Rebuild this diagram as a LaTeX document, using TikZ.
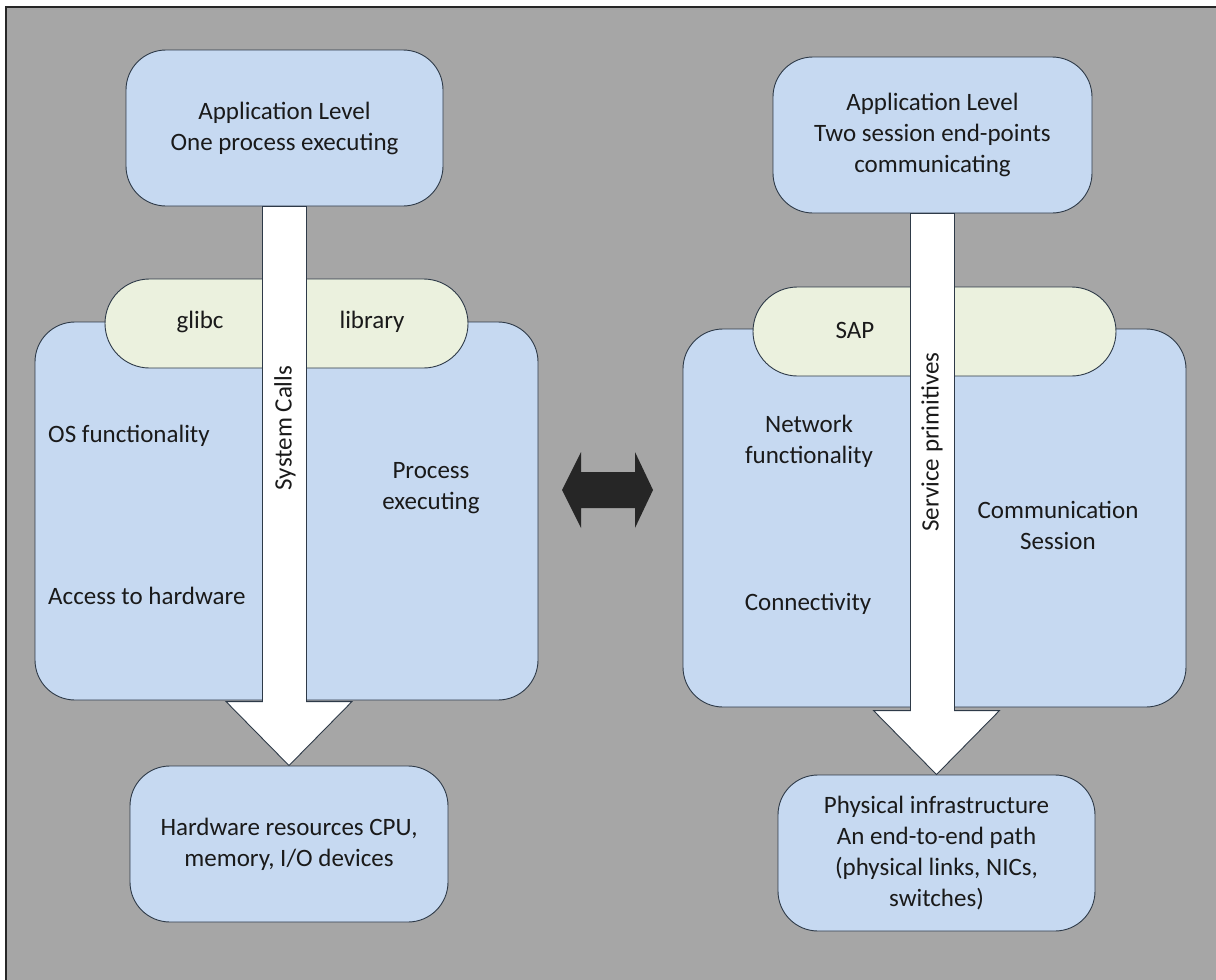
\documentclass[tikz,border=0pt]{standalone}
\usepackage{fontspec}
\setmainfont{Carlito}
\usetikzlibrary{calc}

\definecolor{bggray}{HTML}{A6A6A6}
\definecolor{boxblue}{HTML}{C6D9F1}
\definecolor{pillgreen}{HTML}{EBF1DE}
\definecolor{edgecol}{HTML}{2E3A48}
\definecolor{ink}{HTML}{1A1A1A}
\definecolor{darkarrow}{HTML}{262626}

\tikzset{
  every node/.style={font=\fontsize{25}{31}\selectfont, text=ink, inner sep=0pt},
  panel/.style={draw=edgecol, line width=0.9pt, fill=boxblue,
    rounded corners=40pt, align=center},
  capsule/.style={draw=edgecol, line width=0.9pt, fill=pillgreen,
    rounded corners=44.5pt},
  blockarrow/.style={draw=edgecol, line width=0.9pt, fill=white, line join=miter},
  swaparrow/.style={fill=darkarrow},
  lbl/.style={align=center}
}

\begin{document}
\begin{tikzpicture}[x=1pt,y=-1pt]
\useasboundingbox (0,0) rectangle (1216,980);

% canvas and frame
\fill[white] (0,0) rectangle (1216,980);
\draw[fill=bggray, draw=black!85, line width=1.5pt] (6,7) rectangle (1225,990);

% ---------- left stack: operating system ----------
\node[panel, minimum width=317pt, minimum height=156pt] (ltop) at (284.5,128)
  {Application Level\\One process executing};
\node[panel, minimum width=503pt, minimum height=378pt] (lmid) at (286.5,511) {};
\node[capsule, minimum width=363pt, minimum height=89pt] (lpill) at (286.5,323.5) {};
\node[panel, minimum width=318pt, minimum height=156pt] (lbot) at (289,844)
  {Hardware resources CPU,\\memory, I/O devices};

\draw[blockarrow] let \p1=(ltop.south), \p2=(lbot.north) in
  (\x1-22pt,\y1) -- (\x1-22pt,\y2+64pt) -- (\x2-63pt,\y2+64pt) -- (\p2)
  -- (\x2+63pt,\y2+64pt) -- (\x1+22pt,\y2+64pt) -- (\x1+22pt,\y1) -- cycle;

\node (glibc) at (200,322) {glibc};
\node (library) at (372,322) {library};
\node[anchor=west] (oslbl) at (48,436) {OS functionality};
\node[anchor=west] (acclbl) at (48,596) {Access to hardware};
\node[lbl] (proclbl) at (431,488) {Process\\executing};
\node[rotate=90] (syslbl) at (285,428) {System Calls};

% ---------- right stack: network ----------
\node[panel, minimum width=319pt, minimum height=156pt] (rtop) at (932.5,135)
  {Application Level\\Two session end-points\\communicating};
\node[panel, minimum width=503pt, minimum height=378pt] (rmid) at (934.5,518) {};
\node[capsule, minimum width=363pt, minimum height=89pt] (rpill) at (934.5,331.5) {};
\node[panel, minimum width=317pt, minimum height=156pt] (rbot) at (936.5,853)
  {Physical infrastructure\\An end-to-end path\\(physical links, NICs,\\switches)};

\draw[blockarrow] let \p1=(rtop.south), \p2=(rbot.north) in
  (\x1-22pt,\y1) -- (\x1-22pt,\y2+64pt) -- (\x2-63pt,\y2+64pt) -- (\p2)
  -- (\x2+63pt,\y2+64pt) -- (\x1+22pt,\y2+64pt) -- (\x1+22pt,\y1) -- cycle;

\node (sap) at (855,330) {SAP};
\node[lbl] (netlbl) at (809,441) {Network\\functionality};
\node (conn) at (808,604) {Connectivity};
\node[lbl] (comm) at (1058,525) {Communication\\Session};
\node[rotate=90] (servlbl) at (932,442) {Service primitives};

% ---------- correspondence arrow between the stacks ----------
\coordinate (swap) at (607.5,490);
\fill[swaparrow] ($(swap)+(-45.5,0)$) -- ($(swap)+(-26.5,-38)$) -- ($(swap)+(-26.5,-18)$)
  -- ($(swap)+(27.5,-18)$) -- ($(swap)+(27.5,-38)$) -- ($(swap)+(45.5,0)$)
  -- ($(swap)+(27.5,38)$) -- ($(swap)+(27.5,18)$) -- ($(swap)+(-26.5,18)$)
  -- ($(swap)+(-26.5,38)$) -- cycle;
\end{tikzpicture}
\end{document}
